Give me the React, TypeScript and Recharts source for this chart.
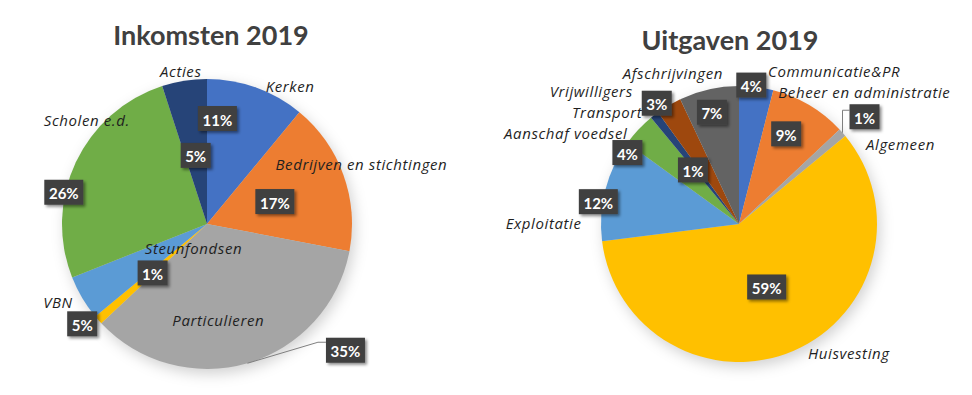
import { PieChart, Pie, Cell } from "recharts";

const incomeNames = ["Kerken", "Bedrijven en stichtingen", "Particulieren", "Steunfondsen", "VBN", "Scholen e.d.", "Acties"];
const incomeValues = [11, 17, 35, 1, 5, 26, 5];

const expenseNames = [
  "Communicatie&PR",
  "Beheer en administratie",
  "Algemeen",
  "Huisvesting",
  "Exploitatie",
  "Aanschaf voedsel",
  "Transport",
  "Vrijwilligers",
  "Afschrijvingen",
];
const expenseValues = [4, 9, 1, 59, 12, 4, 1, 3, 7];

const incomeColors = ["#4472C4", "#ED7D31", "#A5A5A5", "#FFC000", "#5B9BD5", "#70AD47", "#264478"];
const expenseColors = ["#4472C4", "#ED7D31", "#A5A5A5", "#FFC000", "#5B9BD5", "#70AD47", "#264478", "#9E480E", "#636363"];

const incomeData = incomeNames.map((name, i) => ({ name, value: incomeValues[i] }));
const expenseData = expenseNames.map((name, i) => ({ name, value: expenseValues[i] }));

// label placement: [radius factor, dx, dy] for the % box and for the name
type Place = {
  p: [number, number, number];
  n: [number, number, number];
  anchor?: "start" | "middle" | "end";
  leader?: "elbow" | "bracket";
};

const incomePlaces: Place[] = [
  { p: [0.7, -24, -10], n: [1.0, 34, -2] },
  { p: [0.6, -14, 7], n: [1.0, 18, -11] },
  { p: [1.0, 98, -13], n: [0.65, -15, 5], leader: "elbow" },
  { p: [0.5, 0, 1], n: [0.4, 30, -14] },
  { p: [1.0, 0, 26], n: [1.05, -18, 0] },
  { p: [1.0, -12, 30], n: [1.0, 11, -42] },
  { p: [0.5, 0, 3], n: [1.07, -2, 0] },
];

const expensePlaces: Place[] = [
  { p: [1.0, -5, -2], n: [1.1, 10, -2], anchor: "start" },
  { p: [0.7, -2, -7], n: [1.0, -31, -13], anchor: "start" },
  { p: [1.0, 22, -16], n: [1.0, 58, 11], leader: "bracket" },
  { p: [0.45, 3, 6], n: [1.0, 55, 2] },
  { p: [1.0, -7, 12], n: [1.2, -35, 40] },
  { p: [1.0, -11, 23], n: [1.0, -11, 3], anchor: "end" },
  { p: [0.45, -8, -5], n: [1.0, -12, -3], anchor: "end" },
  { p: [1.0, -12, -2], n: [1.1, -29, -2], anchor: "end" },
  { p: [0.8, -3, -4], n: [1.1, -33, -3] },
];

const RAD = Math.PI / 180;
const FONT = "Lato, 'Open Sans', sans-serif";
const NAME_FONT = "'Open Sans', Lato, sans-serif";

function polar(cx: number, cy: number, r: number, angle: number) {
  return { x: cx + Math.cos(-angle * RAD) * r, y: cy + Math.sin(-angle * RAD) * r };
}

function makeLabel(places: Place[]) {
  return (props: any) => {
    const { cx, cy, midAngle, outerRadius, index, name, value } = props;
    const pl = places[index];
    const pp = polar(cx, cy, outerRadius * pl.p[0], midAngle);
    const bx = pp.x + pl.p[1];
    const by = pp.y + pl.p[2];
    const np = polar(cx, cy, outerRadius * pl.n[0], midAngle);
    const nx = np.x + pl.n[1];
    const ny = np.y + pl.n[2];
    const txt = `${value}%`;
    const w = txt.length > 2 ? 39 : 30;
    const h = 25;
    const left = bx - w / 2;
    const top = by - h / 2;
    let leader = null;
    if (pl.leader) {
      const s = polar(cx, cy, outerRadius, midAngle);
      const pts =
        pl.leader === "elbow"
          ? `${s.x},${s.y} ${left - 8},${by - 8} ${left},${by - 8}`
          : `${s.x},${s.y} ${s.x},${top + 6} ${left},${top + 6}`;
      leader = <polyline points={pts} fill="none" stroke="#7f7f7f" strokeWidth={1} />;
    }
    return (
      <g key={`lbl-${index}`}>
        {leader}
        <text
          x={nx}
          y={ny}
          textAnchor={pl.anchor ?? "middle"}
          dominantBaseline="central"
          fontFamily={NAME_FONT}
          fontStyle="italic"
          fontSize={15}
          letterSpacing={0.6}
          fill="#1f1f1f"
        >
          {name}
        </text>
        <rect x={left} y={top} width={w} height={h} fill="#404040" filter="url(#boxShadow)" />
        <text
          x={bx}
          y={by + 1}
          textAnchor="middle"
          dominantBaseline="central"
          fontFamily={FONT}
          fontWeight={700}
          fontSize={15}
          fill="#ffffff"
        >
          {txt}
        </text>
      </g>
    );
  };
}

const titleStyle: React.CSSProperties = {
  position: "absolute",
  top: 18,
  fontFamily: FONT,
  fontWeight: 700,
  fontSize: 27,
  color: "#404040",
  textAlign: "center",
  width: 300,
};

export default function App() {
  const shadowData = [{ name: "shadow", value: 1 }];
  return (
    <div style={{ position: "absolute", left: 0, top: 0, width: 972, height: 395, background: "#fff", overflow: "hidden" }}>
      <PieChart width={972} height={395}>
        <defs>
          <filter id="pieShadow" x="-20%" y="-20%" width="140%" height="140%">
            <feGaussianBlur stdDeviation="7" />
          </filter>
          <filter id="boxShadow" x="-30%" y="-30%" width="160%" height="160%">
            <feDropShadow dx="2" dy="2" stdDeviation="1.5" floodColor="#000" floodOpacity="0.45" />
          </filter>
        </defs>
        <Pie data={shadowData} dataKey="value" cx={205} cy={224} outerRadius={145} stroke="none" isAnimationActive={false} label={false}>
          <Cell fill="#000" fillOpacity={0.18} filter="url(#pieShadow)" />
        </Pie>
        <Pie data={shadowData} dataKey="value" cx={737} cy={224} outerRadius={138} stroke="none" isAnimationActive={false} label={false}>
          <Cell fill="#000" fillOpacity={0.18} filter="url(#pieShadow)" />
        </Pie>
        <Pie
          data={incomeData}
          dataKey="value"
          nameKey="name"
          cx={202}
          cy={219}
          outerRadius={145}
          startAngle={90}
          endAngle={-270}
          stroke="none"
          labelLine={false}
          label={makeLabel(incomePlaces)}
          isAnimationActive={false}
        >
          {incomeData.map((d, i) => (
            <Cell key={d.name} fill={incomeColors[i]} />
          ))}
        </Pie>
        <Pie
          data={expenseData}
          dataKey="value"
          nameKey="name"
          cx={734}
          cy={219}
          outerRadius={138}
          startAngle={90}
          endAngle={-270}
          stroke="none"
          labelLine={false}
          label={makeLabel(expensePlaces)}
          isAnimationActive={false}
        >
          {expenseData.map((d, i) => (
            <Cell key={d.name} fill={expenseColors[i]} />
          ))}
        </Pie>
      </PieChart>
      <div style={{ ...titleStyle, left: 61 }}>Inkomsten 2019</div>
      <div style={{ ...titleStyle, left: 580, top: 23 }}>Uitgaven 2019</div>
    </div>
  );
}
